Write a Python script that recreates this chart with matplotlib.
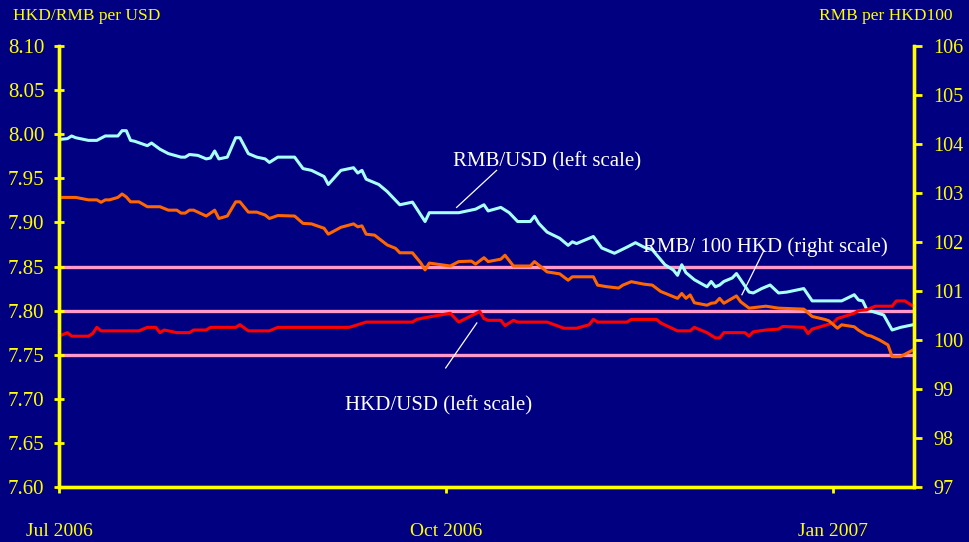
import pandas as pd
import matplotlib.pyplot as plt

start = pd.Timestamp('2006-07-01')

# RMB/USD (left scale), days counted from 1 Jul 2006
rmb_usd_day = [0, 2, 3, 4, 7, 9, 11, 14, 15, 16, 17, 18, 21, 22, 24, 26, 29, 30, 31, 33,
               35, 36, 37, 38, 40, 42, 43, 45, 47, 49, 50, 52, 56, 58, 60, 63, 64, 67, 70, 71,
               72, 73, 76, 78, 81, 84, 87, 88, 95, 99, 101, 102, 105, 107, 109, 112, 113, 114, 116, 119,
               121, 122, 123, 127, 129, 131, 132, 135, 137, 139, 141, 144, 146, 147, 148, 149, 151, 154, 155, 156,
               157, 158, 160, 161, 164, 165, 167, 169, 171, 173, 177, 179, 186, 189, 190, 191, 192, 196, 198, 200,
               203]
rmb_usd = [7.994, 7.995, 7.998, 7.996, 7.993, 7.993, 7.998, 7.998, 8.004, 8.004,
           7.993, 7.992, 7.987, 7.990, 7.983, 7.978, 7.974, 7.974, 7.977, 7.976,
           7.972, 7.973, 7.981, 7.972, 7.974, 7.996, 7.996, 7.978, 7.974, 7.972,
           7.968, 7.974, 7.974, 7.961, 7.959, 7.952, 7.943, 7.959, 7.962, 7.956,
           7.959, 7.949, 7.943, 7.935, 7.920, 7.923, 7.901, 7.911, 7.911, 7.915,
           7.920, 7.913, 7.917, 7.911, 7.901, 7.901, 7.907, 7.899, 7.889, 7.882,
           7.874, 7.878, 7.876, 7.884, 7.871, 7.867, 7.865, 7.872, 7.877, 7.872,
           7.869, 7.852, 7.846, 7.840, 7.852, 7.843, 7.835, 7.827, 7.833, 7.827,
           7.829, 7.833, 7.837, 7.842, 7.821, 7.820, 7.825, 7.829, 7.820, 7.821,
           7.825, 7.811, 7.811, 7.818, 7.812, 7.811, 7.801, 7.795, 7.778, 7.781,
           7.784]

# RMB per 100 HKD (right scale)
rmb_hkd_day = [0, 4, 7, 9, 10, 11, 12, 14, 15, 16, 17, 19, 21, 24, 26, 28, 29, 30, 31, 32,
               35, 37, 38, 40, 42, 43, 45, 47, 49, 50, 52, 56, 58, 60, 63, 64, 67, 70, 71, 72,
               73, 75, 78, 80, 81, 84, 86, 87, 88, 93, 95, 98, 99, 101, 102, 105, 106, 108, 112, 113,
               114, 116, 119, 121, 122, 127, 128, 130, 133, 134, 136, 139, 141, 143, 147, 148, 149, 150, 151, 154,
               155, 156, 157, 158, 161, 162, 164, 168, 171, 177, 179, 182, 183, 185, 186, 189, 190, 192, 193, 195,
               197, 198, 200, 203]
rmb_hkd = [102.91, 102.91, 102.86, 102.86, 102.81, 102.86, 102.86, 102.91, 102.98, 102.92,
           102.82, 102.82, 102.72, 102.72, 102.65, 102.65, 102.59, 102.59, 102.65, 102.65,
           102.53, 102.65, 102.48, 102.53, 102.82, 102.82, 102.61, 102.61, 102.55, 102.48,
           102.54, 102.53, 102.38, 102.37, 102.28, 102.16, 102.30, 102.37, 102.31, 102.33,
           102.16, 102.14, 101.94, 101.87, 101.78, 101.78, 101.57, 101.43, 101.57, 101.51,
           101.60, 101.61, 101.55, 101.68, 101.60, 101.65, 101.73, 101.51, 101.51, 101.60,
           101.53, 101.39, 101.35, 101.22, 101.29, 101.29, 101.12, 101.09, 101.06, 101.12,
           101.19, 101.14, 101.12, 100.99, 100.85, 100.95, 100.85, 100.92, 100.76, 100.71,
           100.75, 100.76, 100.85, 100.75, 100.90, 100.78, 100.65, 100.69, 100.65, 100.63,
           100.48, 100.42, 100.39, 100.24, 100.31, 100.27, 100.20, 100.10, 100.08, 100.00,
           99.90, 99.66, 99.66, 99.80]

# HKD/USD (left scale)
hkd_usd_day = [0, 2, 3, 7, 8, 9, 10, 19, 21, 23, 24, 25, 28, 31, 32, 35, 36, 42, 43, 45,
               50, 52, 69, 71, 73, 84, 85, 87, 93, 95, 100, 101, 102, 105, 106, 108, 109, 116, 120, 123,
               126, 127, 128, 135, 136, 142, 143, 147, 150, 151, 154, 155, 156, 157, 158, 163, 164, 165, 168, 171,
               172, 177, 178, 179, 184, 185, 189, 190, 192, 194, 198, 199, 201, 203]
hkd_usd = [7.771, 7.775, 7.771, 7.771, 7.774, 7.781, 7.777, 7.777, 7.781, 7.781,
           7.775, 7.778, 7.775, 7.775, 7.778, 7.778, 7.781, 7.781, 7.784, 7.777,
           7.777, 7.781, 7.781, 7.784, 7.787, 7.787, 7.790, 7.792, 7.797, 7.787,
           7.799, 7.791, 7.789, 7.789, 7.783, 7.789, 7.787, 7.787, 7.780, 7.780,
           7.784, 7.790, 7.787, 7.787, 7.790, 7.790, 7.786, 7.777, 7.777, 7.781,
           7.775, 7.772, 7.769, 7.769, 7.775, 7.775, 7.771, 7.776, 7.778, 7.779,
           7.782, 7.781, 7.774, 7.779, 7.786, 7.791, 7.797, 7.800, 7.801, 7.805,
           7.805, 7.811, 7.811, 7.805]

ref_levels = [7.85, 7.80, 7.75]
left_ticks = [7.60, 7.65, 7.70, 7.75, 7.80, 7.85, 7.90, 7.95, 8.00, 8.05, 8.10]
right_ticks = [97, 98, 99, 100, 101, 102, 103, 104, 105, 106]
x_tick_dates = ['2006-07-01', '2006-10-01', '2007-01-01']
x_tick_labels = ['Jul 2006', 'Oct 2006', 'Jan 2007']


def to_dates(days):
    return start + pd.to_timedelta(days, unit='D')


navy = '#000080'
yellow = '#FFFF00'
plt.rcParams['font.family'] = ['Liberation Serif', 'DejaVu Serif']

fig = plt.figure(figsize=(9.7, 5.42), dpi=100, facecolor=navy)
ax = fig.add_axes([0.0608, 0.1015, 0.8815, 0.8136])
ax.set_facecolor(navy)
ax2 = ax.twinx()

# reference levels
for lv in ref_levels:
    ax.axhline(lv, color='#FF99CC', lw=2.4, zorder=1)

ax.plot(to_dates(rmb_usd_day), rmb_usd, color='#A8FFFF', lw=2.2, zorder=3)
ax.plot(to_dates(hkd_usd_day), hkd_usd, color='#FF0000', lw=2.2, zorder=3)
ax2.plot(to_dates(rmb_hkd_day), rmb_hkd, color='#FF6600', lw=2.2)

ax.set_xlim(start, to_dates(203.2))
ax.set_ylim(7.60, 8.10)
ax2.set_ylim(97, 106)
ax.set_yticks(left_ticks)
ax.set_yticklabels(['%.2f' % t for t in left_ticks])
ax2.set_yticks(right_ticks)
ax.set_xticks(pd.to_datetime(x_tick_dates))
ax.set_xticklabels(x_tick_labels)

for a in (ax, ax2):
    for s in a.spines.values():
        s.set_color(yellow)
        s.set_linewidth(2.4)
    a.spines['top'].set_visible(False)
ax.tick_params(axis='y', colors=yellow, labelsize=15, direction='inout', length=7, width=2, pad=7)
ax.tick_params(axis='x', colors=yellow, labelsize=14, direction='out', length=4, width=2, pad=22)
ax2.tick_params(axis='y', colors=yellow, labelsize=14.5, direction='out', length=6, width=2, pad=8)
ax2.tick_params(axis='x', length=0)

# axis titles
fig.text(0.013, 0.97, 'HKD/RMB per USD', color=yellow, fontsize=12.5, va='center', ha='left')
fig.text(0.982, 0.97, 'RMB per HKD100', color=yellow, fontsize=12.5, va='center', ha='right')

# series labels with leader lines
ax.plot(to_dates([94.5, 104.0]), [7.917, 7.959], color='white', lw=0.9)
ax.text(to_dates(93.7), 7.969, 'RMB/USD (left scale)', color='white', fontsize=15, va='center')
ax.plot(to_dates([162.3, 167.4]), [7.818, 7.867], color='white', lw=0.9)
ax.text(to_dates(138.8), 7.872, 'RMB/ 100 HKD (right scale)', color='white', fontsize=15, va='center')
ax.plot(to_dates([91.9, 99.3]), [7.735, 7.786], color='white', lw=0.9)
ax.text(to_dates(68.0), 7.692, 'HKD/USD (left scale)', color='white', fontsize=15, va='center')

fig.savefig('out.png', dpi=100, facecolor=navy)
